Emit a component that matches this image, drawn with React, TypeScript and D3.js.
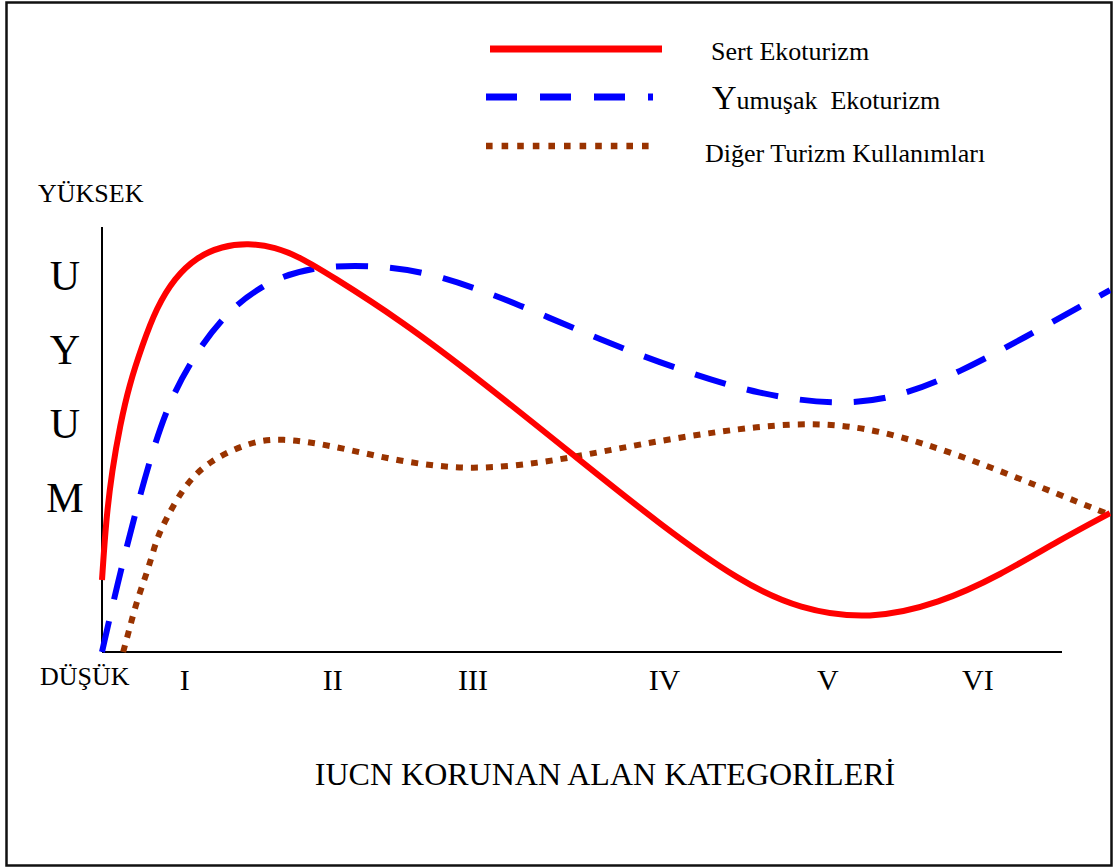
import React from "react";
import * as d3 from "d3";

const W = 1115;
const H = 867;

// x in "chart units" 0..100 across the plot, y in 0..100 (DÜŞÜK..YÜKSEK)
const sertX = [0, 0.4, 1.0, 1.8, 2.7, 4.0, 5.4, 7.2, 9.4, 11.9, 14.5, 17.2, 19.6, 22.6, 29.6, 37.5, 47.4, 55.4, 63.3, 69.2, 76.2, 83.1, 89.1, 95.0, 100];
const sertY = [16.6, 30.4, 41.9, 52.3, 61.5, 70.7, 79.3, 86.2, 91.0, 93.5, 94.2, 93.3, 91.0, 86.9, 76.5, 62.7, 44.2, 29.3, 16.2, 9.8, 7.4, 11.2, 17.7, 25.8, 32.0];

const yumusakX = [0, 1.5, 3.3, 4.8, 6.5, 8.7, 11.7, 15.7, 20.6, 27.6, 33.5, 41.5, 49.4, 57.3, 65.3, 73.2, 79.2, 85.1, 91.1, 100];
const yumusakY = [0, 15.4, 32.0, 44.7, 56.7, 66.6, 76.7, 84.6, 88.9, 89.2, 86.9, 80.0, 71.9, 65.0, 59.2, 56.8, 58.8, 64.5, 71.9, 83.4];

const digerX = [2.1, 2.7, 3.5, 4.6, 5.4, 6.3, 8.2, 10.7, 14.7, 17.7, 22.6, 29.6, 36.5, 43.5, 49.4, 57.3, 65.3, 71.2, 77.2, 85.1, 93.1, 100];
const digerY = [0, 5.1, 12.2, 19.1, 26.0, 30.4, 38.5, 44.2, 48.4, 49.3, 47.7, 43.8, 41.9, 43.5, 46.1, 49.5, 52.1, 52.8, 51.2, 45.4, 38.0, 31.6];

const categories = ["I", "II", "III", "IV", "V", "VI"];
const categoryPos = [8.2, 22.9, 36.8, 55.8, 72.0, 86.9];

const yLetters = ["U", "Y", "U", "M"];

const seriesNames = ["Sert Ekoturizm", "Yumuşak  Ekoturizm", "Diğer Turizm Kullanımları"];

const FONT = "Liberation Serif, Times New Roman, DejaVu Serif, serif";

export default function App() {
  const x = d3.scaleLinear().domain([0, 100]).range([102, 1110]);
  const y = d3.scaleLinear().domain([0, 100]).range([652, 218]);

  const line = d3
    .line<[number, number]>()
    .x((d) => x(d[0]))
    .y((d) => y(d[1]))
    .curve(d3.curveBasis);

  const zip = (xs: number[], ys: number[]) => xs.map((v, i) => [v, ys[i]] as [number, number]);

  const sertPath = line(zip(sertX, sertY)) || "";
  const yumusakPath = line(zip(yumusakX, yumusakY)) || "";
  const digerPath = line(zip(digerX, digerY)) || "";

  const styles = [
    { stroke: "#ff0000", dash: undefined as string | undefined },
    { stroke: "#0000ff", dash: "32 22" },
    { stroke: "#993300", dash: "7 8" },
  ];

  const ts = { fontFamily: FONT, fill: "#000" };

  return (
    <svg
      width={W}
      height={H}
      style={{ position: "absolute", left: 0, top: 0, background: "#fff" }}
    >
      <defs>
        <clipPath id="plotclip">
          <rect x={0} y={0} width={1111} height={H} />
        </clipPath>
      </defs>
      <rect x={0} y={0} width={W} height={H} fill="#fff" />
      <rect x={6.5} y={2.5} width={1105} height={863} fill="none" stroke="#111" strokeWidth={2.5} />

      {/* Legend */}
      <line x1={490} x2={662} y1={49} y2={49} stroke={styles[0].stroke} strokeWidth={7} />
      <line x1={486} x2={653} y1={97} y2={97} stroke={styles[1].stroke} strokeWidth={7} strokeDasharray="31 23" />
      <line x1={486} x2={650} y1={146} y2={146} stroke={styles[2].stroke} strokeWidth={6.5} strokeDasharray="6.6 9" />
      <text x={711} y={60} fontSize={26} style={ts}>{seriesNames[0]}</text>
      <text x={712} y={109} fontSize={26} style={ts}>
        <tspan fontSize={34}>{seriesNames[1].charAt(0)}</tspan>
        <tspan style={{ whiteSpace: "pre" }}>{seriesNames[1].slice(1)}</tspan>
      </text>
      <text x={705} y={162} fontSize={26} style={ts}>{seriesNames[2]}</text>

      {/* Axes */}
      <line x1={x(0)} x2={x(0)} y1={y(100) + 9} y2={y(0)} stroke="#000" strokeWidth={2} />
      <line x1={x(0)} x2={1062} y1={y(0)} y2={y(0)} stroke="#000" strokeWidth={2} />

      <text x={38} y={202} fontSize={26} style={ts}>YÜKSEK</text>
      <text x={40} y={685} fontSize={26} style={ts}>DÜŞÜK</text>

      {yLetters.map((l, i) => (
        <text key={i} x={65} y={290 + i * 74} fontSize={42} textAnchor="middle" style={ts}>
          {l}
        </text>
      ))}

      {categories.map((c, i) => (
        <text key={c} x={x(categoryPos[i])} y={690} fontSize={30} textAnchor="middle" style={ts}>
          {c}
        </text>
      ))}

      <text x={605} y={785} fontSize={32} textAnchor="middle" style={ts}>
        IUCN KORUNAN ALAN KATEGORİLERİ
      </text>

      {/* Curves */}
      <g clipPath="url(#plotclip)" fill="none" strokeWidth={6}>
        <path d={digerPath} stroke={styles[2].stroke} strokeDasharray={styles[2].dash} />
        <path d={yumusakPath} stroke={styles[1].stroke} strokeDasharray={styles[1].dash} />
        <path d={sertPath} stroke={styles[0].stroke} />
      </g>
    </svg>
  );
}
